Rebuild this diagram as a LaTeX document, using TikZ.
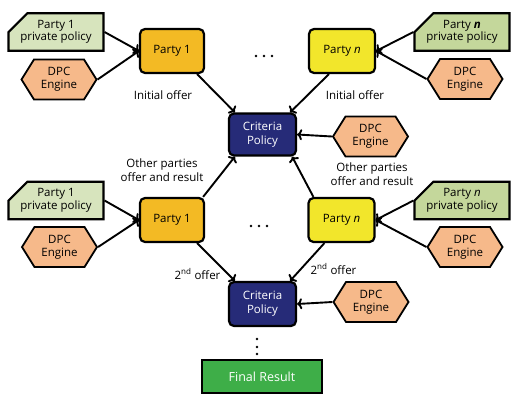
\documentclass[tikz,border=0pt]{standalone}
\usepackage{fontspec}
\setmainfont{Open Sans}
\usetikzlibrary{arrows.meta,calc,shapes.misc,shapes.symbols}
\definecolor{partyone}{HTML}{F3BA24}
\definecolor{partyn}{HTML}{F2E62B}
\definecolor{critblue}{HTML}{262B78}
\definecolor{polone}{HTML}{D7E4BD}
\definecolor{poln}{HTML}{C4D79B}
\definecolor{engine}{HTML}{F6B98A}
\definecolor{finalgreen}{HTML}{3EAE48}
\tikzset{conn/.style={-{To[length=5pt,width=11pt]}, line width=1.9pt}, party/.style={draw, line width=2.2pt, rounded corners=5pt, minimum width=64pt, minimum height=44pt, font=\fontsize{11.5}{13}\selectfont}, crit/.style={party, fill=critblue, text=white, align=center, minimum width=67pt, minimum height=42pt, font=\fontsize{11.5}{14}\selectfont}, policy/.style={chamfered rectangle, chamfered rectangle corners=north west, chamfered rectangle xsep=14pt, chamfered rectangle ysep=7pt, draw, line width=2.2pt, minimum width=90pt, minimum height=36pt, inner sep=0pt, align=center, font=\fontsize{11.5}{12.5}\selectfont}, dpc/.style={signal, signal to=east and west, signal pointer angle=116, draw, line width=1.8pt, fill=engine, minimum width=75pt, minimum height=40pt, inner sep=0pt, align=center, font=\fontsize{11.5}{13}\selectfont}, lbl/.style={align=center, font=\fontsize{11.5}{14}\selectfont}}

\begin{document}
\begin{tikzpicture}[x=1pt,y=-1pt]
\useasboundingbox (0,0) rectangle (516,404);
% first round
\node[party, fill=partyone] (p1a) at (172,51) {Party 1};
\node[party, fill=partyn, minimum width=66pt] (pna) at (342,51) {Party \textit{n}};
\node[policy, fill=polone] (pol1a) at (56,32) {Party 1\\private policy};
\node[dpc] (dpc1a) at (59,79.5) {DPC\\Engine};
\node[policy, fill=poln] (polna) at (462,32) {Party \textbf{\textit{n}}\\private policy};
\node[dpc] (dpcna) at (465,79) {DPC\\Engine};
\node[crit] (c1) at (262.5,134.5) {Criteria\\Policy};
\node[dpc] (dpcm1) at (370.5,136.5) {DPC\\Engine};
\node[lbl] (io1) at (163,95) {Initial offer};
\node[lbl] (ion) at (355,95) {Initial offer};
\node[lbl] (op1) at (162,170) {Other parties\\offer and result};
\node[lbl] (opn) at (372,174) {Other parties\\offer and result};
% second round
\node[party, fill=partyone] (p1b) at (172,220) {Party 1};
\node[party, fill=partyn, minimum width=66pt] (pnb) at (341.5,220) {Party \textit{n}};
\node[policy, fill=polone, minimum height=35pt] (pol1b) at (56,200.5) {Party 1\\private policy};
\node[dpc] (dpc1b) at (59.5,247) {DPC\\Engine};
\node[policy, fill=poln, minimum height=35pt] (polnb) at (462,200.5) {Party \textit{n}\\private policy};
\node[dpc] (dpcnb) at (465,247) {DPC\\Engine};
\node[crit, minimum height=44pt] (c2) at (262.5,304) {Criteria\\Policy};
\node[dpc] (dpcm2) at (371,302) {DPC\\Engine};
\node[lbl] (so1) at (197.5,274) {2\textsuperscript{nd} offer};
\node[lbl] (son) at (333.5,269) {2\textsuperscript{nd} offer};
\node[draw, line width=2.2pt, fill=finalgreen, text=white, minimum width=120pt, minimum height=33pt, font=\fontsize{12.5}{14}\selectfont] (fin) at (262,376.5) {Final Result};
% dots
\foreach \x in {256,264,272} \fill (\x,56) circle (1.4pt);
\foreach \x in {251,259,267} \fill (\x,226) circle (1.4pt);
\foreach \y in {339,347,354} \fill (257,\y) circle (1.4pt);
% connectors
\draw[conn] (pol1a.east) -- (p1a.west);
\draw[conn] (dpc1a.east) -- (p1a.west);
\draw[conn] (polna.west) -- (pna.east);
\draw[conn] (dpcna.west) -- (pna.east);
\draw[conn] ($(p1a.south east)+(-8,0)$) -- ($(c1.north west)+(7,0)$);
\draw[conn] ($(pna.south west)+(21,0)$) -- ($(c1.north east)+(-7,0)$);
\draw[conn] (dpcm1.west) -- (c1.east);
\draw[conn] (pol1b.east) -- (p1b.west);
\draw[conn] (dpc1b.east) -- (p1b.west);
\draw[conn] (polnb.west) -- (pnb.east);
\draw[conn] (dpcnb.west) -- (pnb.east);
\draw[conn] ($(p1b.north east)+(-2,0)$) -- ($(c1.south west)+(7,0)$);
\draw[conn] ($(pnb.north west)+(6,0)$) -- ($(c1.south east)+(-5,0)$);
\draw[conn] ($(p1b.south east)+(-8,0)$) -- ($(c2.north west)+(7,0)$);
\draw[conn] ($(pnb.south west)+(17,0)$) -- ($(c2.north east)+(-7,0)$);
\draw[conn] (dpcm2.west) -- (c2.east);
\end{tikzpicture}
\end{document}
